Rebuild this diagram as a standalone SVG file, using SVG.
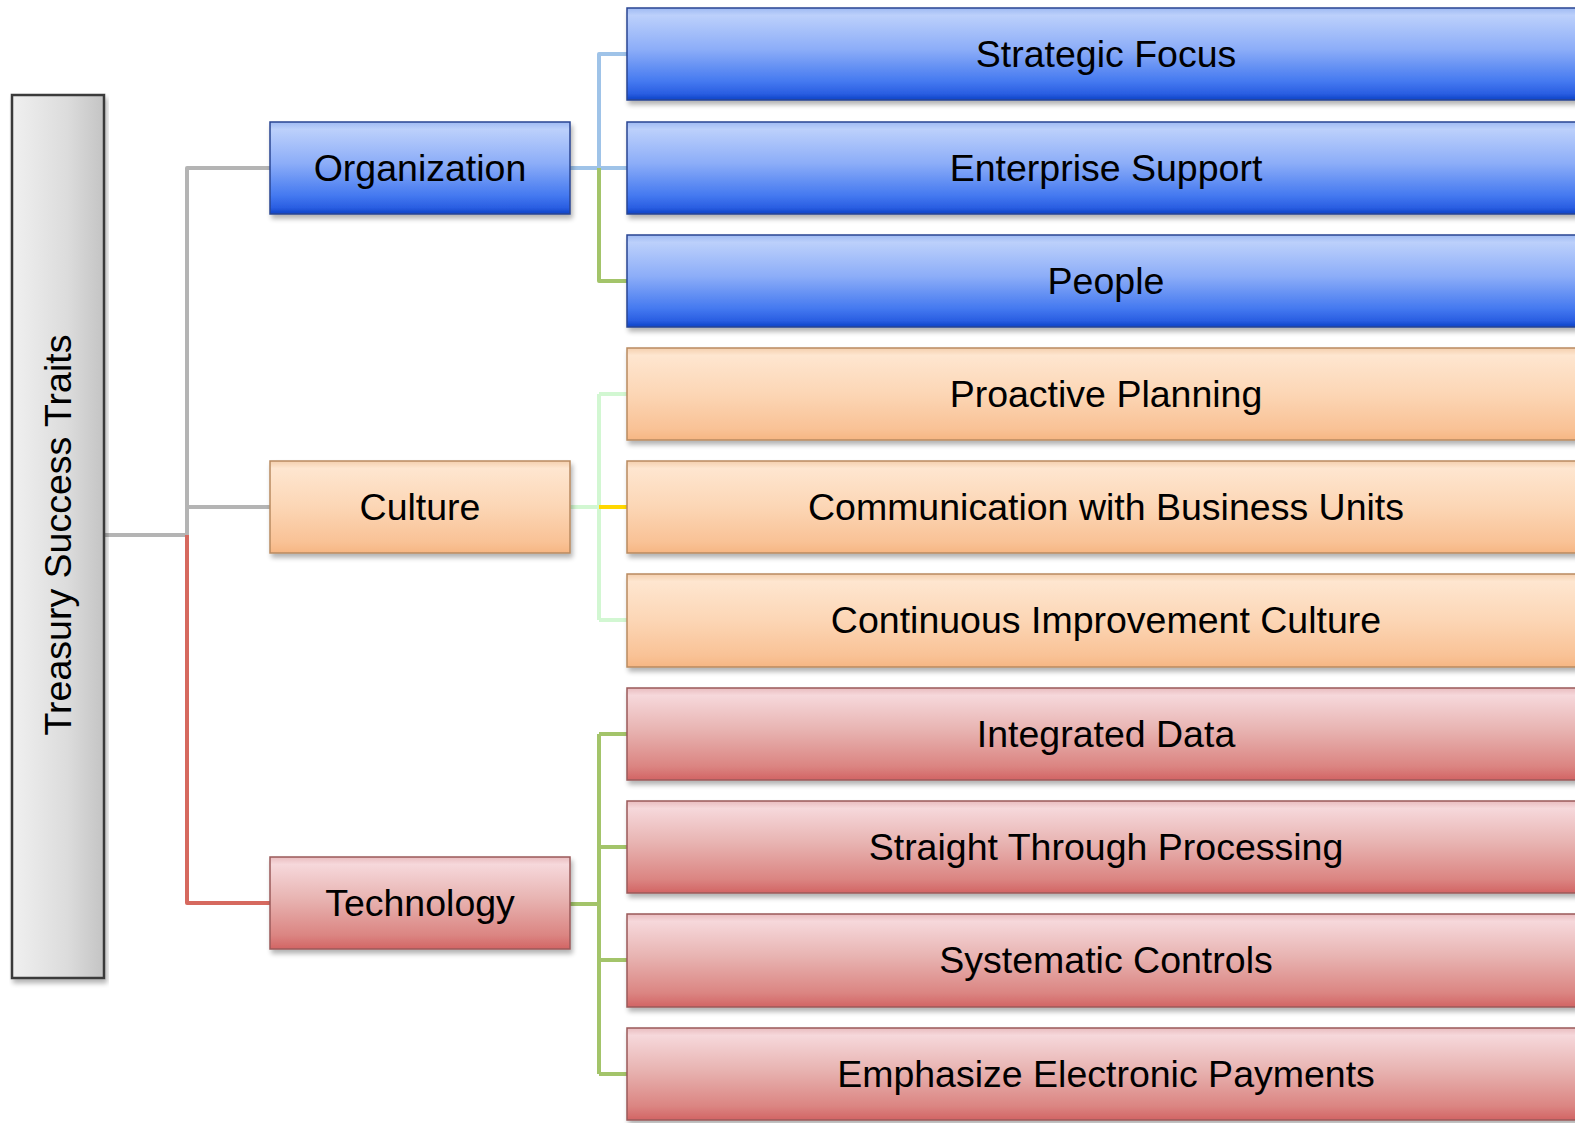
<svg xmlns="http://www.w3.org/2000/svg" width="1575" height="1123" viewBox="0 0 1575 1123">
<style>
  text { font-family: "Liberation Sans", Arial, sans-serif; font-size: 37.5px; fill: #000; text-anchor: middle; dominant-baseline: central; }
  .blue { fill: url(#gBlue); stroke: #2a4592; stroke-width: 1.5; filter: url(#sh); }
  .orange { fill: url(#gOrange); stroke: #b98a60; stroke-width: 1.5; filter: url(#sh); }
  .red { fill: url(#gRed); stroke: #9a5a5a; stroke-width: 1.5; filter: url(#sh); }
  .root { fill: url(#gGray); stroke: #3a3a3a; stroke-width: 2.5; filter: url(#sh); }
  .c { fill: none; stroke-width: 4; stroke-linejoin: round; }
</style>
<defs>
  <filter id="sh" x="-5%" y="-10%" width="110%" height="130%">
    <feGaussianBlur in="SourceAlpha" stdDeviation="2.5"/>
    <feOffset dx="2" dy="4" result="b"/>
    <feComponentTransfer><feFuncA type="linear" slope="0.3"/></feComponentTransfer>
    <feMerge><feMergeNode/><feMergeNode in="SourceGraphic"/></feMerge>
  </filter>
  <linearGradient id="gBlue" x1="0" y1="0" x2="0" y2="1">
    <stop offset="0" stop-color="#9fbaf2"/>
    <stop offset="0.08" stop-color="#bcd0fb"/>
    <stop offset="0.45" stop-color="#8cadf8"/>
    <stop offset="0.8" stop-color="#4479f0"/>
    <stop offset="0.93" stop-color="#2a5ee2"/>
    <stop offset="1" stop-color="#0c42c6"/>
  </linearGradient>
  <linearGradient id="gOrange" x1="0" y1="0" x2="0" y2="1">
    <stop offset="0" stop-color="#f4cfae"/>
    <stop offset="0.08" stop-color="#fee6d0"/>
    <stop offset="0.5" stop-color="#fcd6b5"/>
    <stop offset="0.88" stop-color="#f9c296"/>
    <stop offset="1" stop-color="#f6b683"/>
  </linearGradient>
  <linearGradient id="gRed" x1="0" y1="0" x2="0" y2="1">
    <stop offset="0" stop-color="#e9bcbf"/>
    <stop offset="0.08" stop-color="#f6d8db"/>
    <stop offset="0.45" stop-color="#e8b4b2"/>
    <stop offset="0.85" stop-color="#db8582"/>
    <stop offset="1" stop-color="#d26464"/>
  </linearGradient>
  <linearGradient id="gGray" x1="0" y1="0" x2="1" y2="0">
    <stop offset="0" stop-color="#f0f0f0"/>
    <stop offset="0.6" stop-color="#dcdcdc"/>
    <stop offset="1" stop-color="#c4c4c4"/>
  </linearGradient>
</defs>

<g id="connectors">
  <path class="c" stroke="#b4b4b4" d="M104 535 H187 V168 H270"/>
  <path class="c" stroke="#b4b4b4" d="M187 507 H270"/>
  <path class="c" stroke="#d6695f" d="M187 535 V903 H270"/>
  <path class="c" stroke="#9fc3e8" d="M570 168 H627 M599 168 V54 H627"/>
  <path class="c" stroke="#a3c46a" d="M599 168 V281 H627"/>
  <path class="c" stroke="#d2f7d2" d="M570 507 H599 M599 394 V620 M599 394 H627 M599 620 H627"/>
  <path class="c" stroke="#ffd700" d="M599 507 H627"/>
  <path class="c" stroke="#a3c46a" d="M570 904 H599 M599 734 V1074 M599 734 H627 M599 847 H627 M599 960 H627 M599 1074 H627"/>
</g>

<g id="root">
  <rect class="root" x="12" y="95" width="92" height="883"/>
  <text transform="translate(58 535) rotate(-90)">Treasury Success Traits</text>
</g>

<g id="organization">
  <rect class="blue" x="270" y="122" width="300" height="92"/>
  <text x="420" y="168">Organization</text>
</g>
<g id="culture">
  <rect class="orange" x="270" y="461" width="300" height="92"/>
  <text x="420" y="507">Culture</text>
</g>
<g id="technology">
  <rect class="red" x="270" y="857" width="300" height="92"/>
  <text x="420" y="903">Technology</text>
</g>

<g id="strategic-focus">
  <rect class="blue" x="627" y="8" width="960" height="92"/>
  <text x="1106" y="54">Strategic Focus</text>
</g>
<g id="enterprise-support">
  <rect class="blue" x="627" y="122" width="960" height="92"/>
  <text x="1106" y="168">Enterprise Support</text>
</g>
<g id="people">
  <rect class="blue" x="627" y="235" width="960" height="92"/>
  <text x="1106" y="281">People</text>
</g>
<g id="proactive-planning">
  <rect class="orange" x="627" y="348" width="960" height="92"/>
  <text x="1106" y="394">Proactive Planning</text>
</g>
<g id="communication">
  <rect class="orange" x="627" y="461" width="960" height="92"/>
  <text x="1106" y="507">Communication with Business Units</text>
</g>
<g id="continuous-improvement">
  <rect class="orange" x="627" y="574" width="960" height="93"/>
  <text x="1106" y="620">Continuous Improvement Culture</text>
</g>
<g id="integrated-data">
  <rect class="red" x="627" y="688" width="960" height="92"/>
  <text x="1106" y="734">Integrated Data</text>
</g>
<g id="straight-through">
  <rect class="red" x="627" y="801" width="960" height="92"/>
  <text x="1106" y="847">Straight Through Processing</text>
</g>
<g id="systematic-controls">
  <rect class="red" x="627" y="914" width="960" height="93"/>
  <text x="1106" y="960">Systematic Controls</text>
</g>
<g id="electronic-payments">
  <rect class="red" x="627" y="1028" width="960" height="92"/>
  <text x="1106" y="1074">Emphasize Electronic Payments</text>
</g>
</svg>
